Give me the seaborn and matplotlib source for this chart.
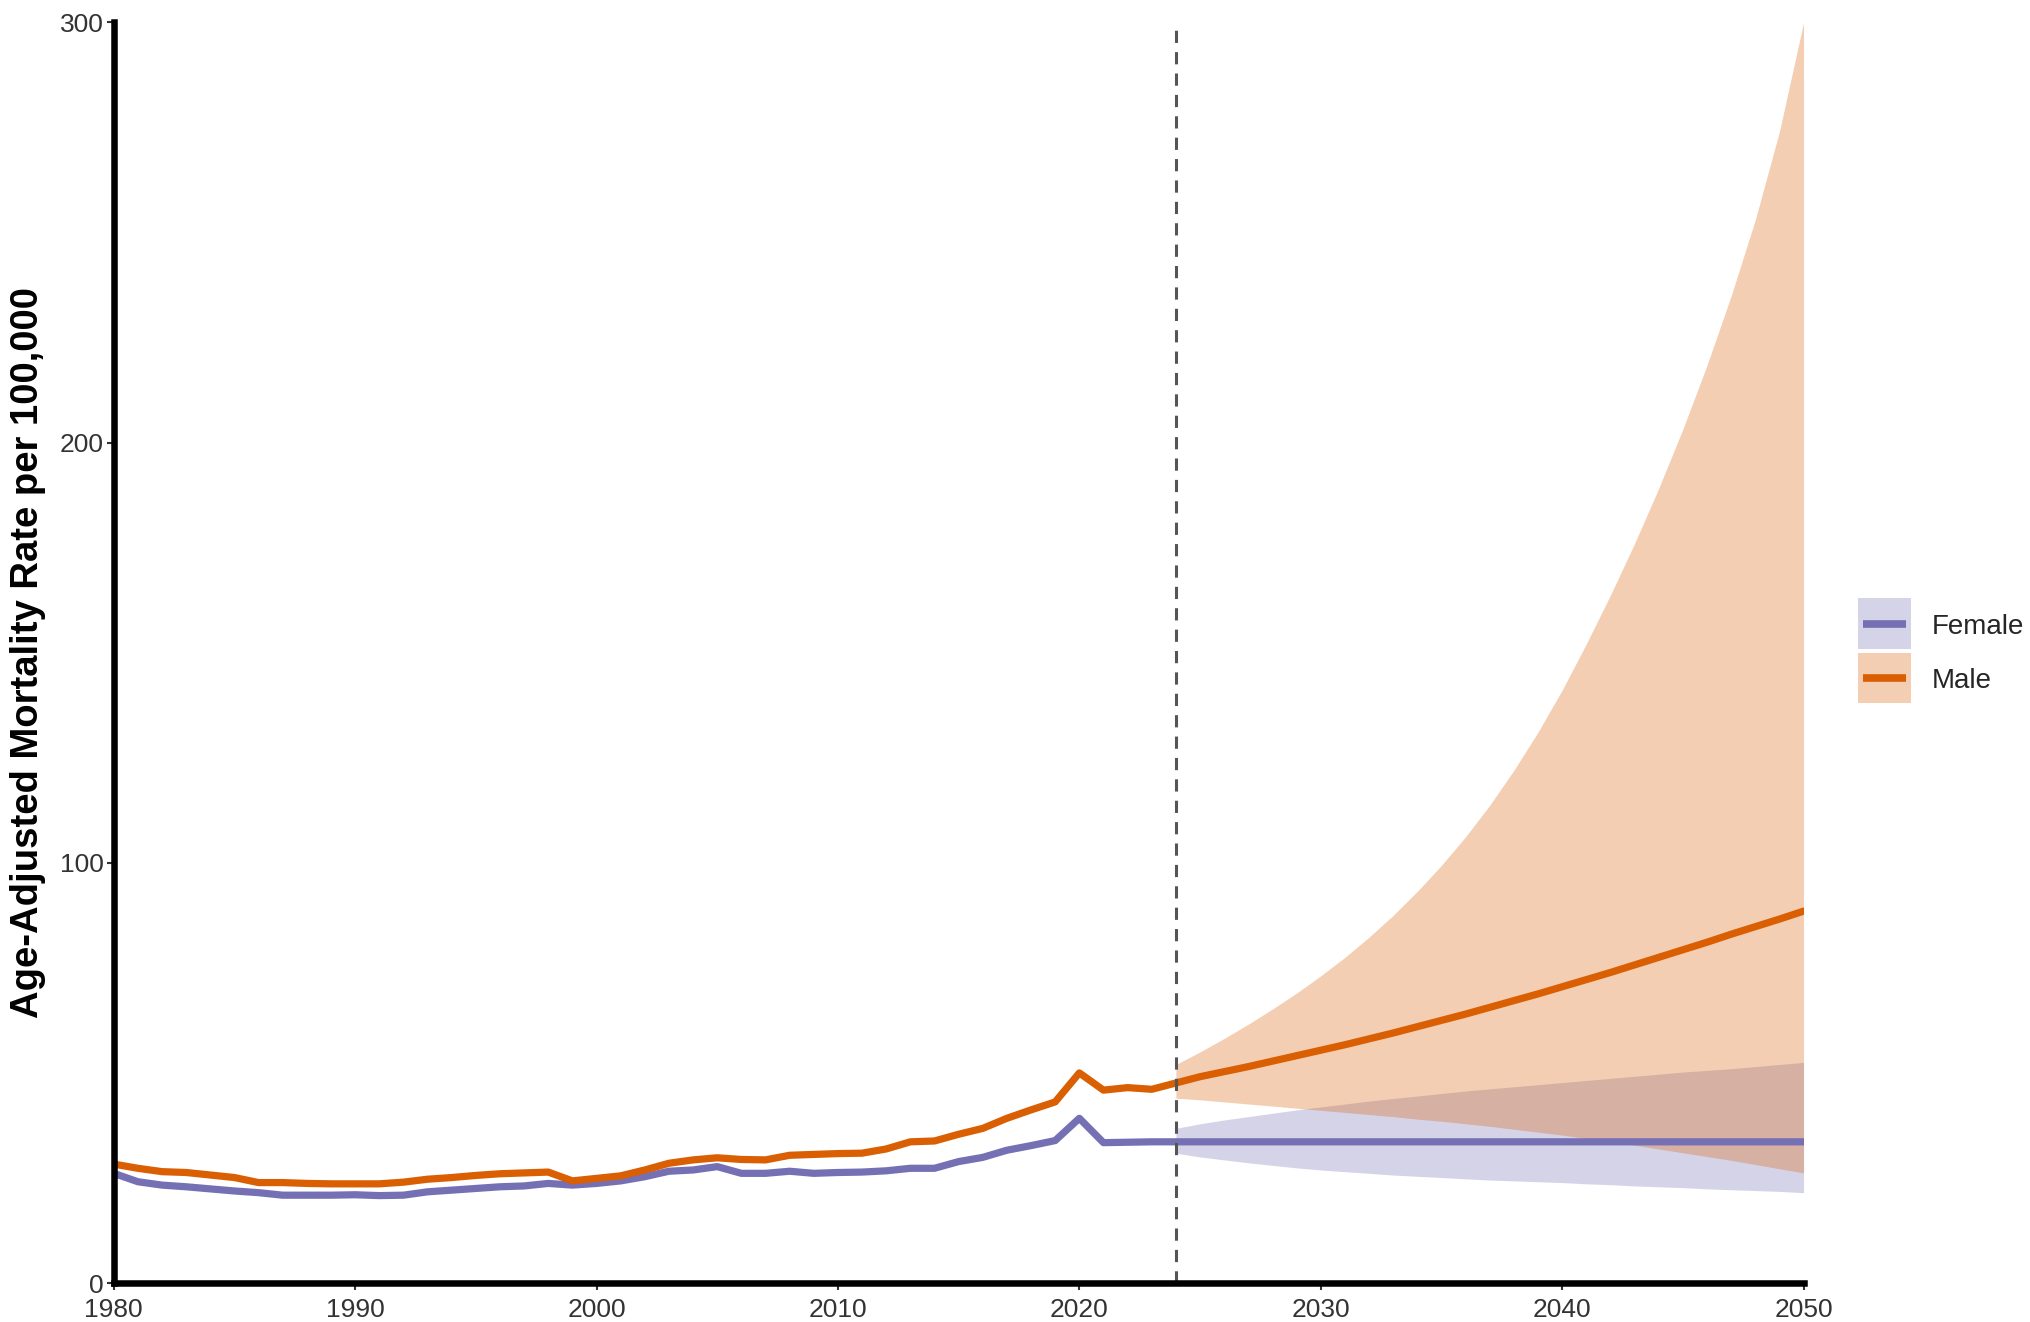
import numpy as np
import pandas as pd
import matplotlib
matplotlib.use('Agg')
import matplotlib.pyplot as plt
from matplotlib.patches import Patch, Rectangle
from matplotlib.lines import Line2D
from matplotlib.legend_handler import HandlerPatch, HandlerLine2D
import seaborn as sns

sns.set_theme(style='ticks')
plt.rcParams['font.family'] = ['Liberation Sans', 'DejaVu Sans']

# observed rates 1980-2024
hist_years = list(range(1980, 2025))
male_hist = [28.3, 27.3, 26.5, 26.3, 25.7, 25.1, 23.9, 23.9, 23.7, 23.6,
             23.6, 23.6, 24.0, 24.7, 25.1, 25.6, 26.0, 26.2, 26.4, 24.3,
             24.9, 25.5, 26.9, 28.5, 29.3, 29.8, 29.4, 29.3, 30.4, 30.6,
             30.8, 30.9, 31.9, 33.6, 33.8, 35.4, 36.8, 39.2, 41.2, 43.1,
             50.0, 45.9, 46.5, 46.1, 47.6]
female_hist = [26.1, 24.1, 23.3, 22.9, 22.4, 21.9, 21.5, 20.9, 20.9, 20.9,
               21.0, 20.8, 20.9, 21.7, 22.1, 22.5, 22.9, 23.1, 23.7, 23.3,
               23.7, 24.3, 25.3, 26.6, 26.9, 27.7, 26.1, 26.1, 26.6, 26.1,
               26.3, 26.4, 26.7, 27.3, 27.3, 28.9, 29.9, 31.6, 32.7, 33.9,
               39.2, 33.4, 33.5, 33.6, 33.6]

# forecast 2024-2050
fc_years = list(range(2024, 2051))
male_fc = [47.6, 49.1, 50.3, 51.5, 52.8, 54.1, 55.4, 56.7, 58.1, 59.5,
           61.0, 62.5, 64.0, 65.6, 67.2, 68.8, 70.5, 72.2, 73.9, 75.7,
           77.5, 79.3, 81.1, 83.0, 84.8, 86.6, 88.5]
male_lo = [44.0, 43.6, 43.1, 42.6, 42.1, 41.6, 41.1, 40.6, 40.1, 39.6,
           39.0, 38.5, 37.9, 37.3, 36.6, 35.9, 35.2, 34.4, 33.6, 32.8,
           31.9, 31.0, 30.1, 29.2, 28.2, 27.2, 26.2]
male_hi = [52.0, 55.0, 58.2, 61.6, 65.2, 69.0, 73.1, 77.5, 82.3, 87.5,
           93.2, 99.4, 106.2, 113.7, 122.0, 131.1, 141.1, 152.1, 163.7, 176.0,
           189.1, 203.2, 218.4, 234.9, 253.0, 274.0, 300.0]
female_fc = [33.6] * 27
female_lo = [30.9, 30.0, 29.3, 28.6, 28.0, 27.4, 26.9, 26.5, 26.1, 25.7,
             25.4, 25.1, 24.8, 24.5, 24.3, 24.1, 23.9, 23.6, 23.4, 23.1,
             22.9, 22.7, 22.4, 22.2, 22.0, 21.8, 21.5]
female_hi = [36.8, 37.9, 38.8, 39.6, 40.4, 41.2, 41.9, 42.6, 43.3, 43.9,
             44.5, 45.1, 45.7, 46.2, 46.7, 47.2, 47.7, 48.2, 48.7, 49.2,
             49.7, 50.2, 50.6, 51.0, 51.5, 52.0, 52.5]

sexes = ['Female', 'Male']
colors = {'Female': '#7570B3', 'Male': '#D95F02'}

lines = pd.concat([
    pd.DataFrame({'year': hist_years + fc_years[1:],
                  'rate': female_hist + female_fc[1:], 'sex': 'Female'}),
    pd.DataFrame({'year': hist_years + fc_years[1:],
                  'rate': male_hist + male_fc[1:], 'sex': 'Male'}),
], ignore_index=True)

bands = {
    'Female': (female_lo, female_hi),
    'Male': (male_lo, male_hi),
}

fig = plt.figure(figsize=(20.31, 13.22), dpi=100)
ax = fig.add_axes([0.056, 0.0295, 0.832, 0.9535])

sns.lineplot(data=lines, x='year', y='rate', hue='sex', palette=colors,
             hue_order=sexes, linewidth=5.2, ax=ax, legend=False,
             errorbar=None)

# prediction intervals drawn above the lines
for s in sexes:
    lo, hi = bands[s]
    ax.fill_between(fc_years, lo, hi, color=colors[s], alpha=0.3,
                    linewidth=0)

ax.axvline(2024, color='#555555', linestyle=(0, (4, 3)), linewidth=2.2)

ax.set_xlim(1980, 2050)
ax.set_ylim(0, 300)
ax.set_xticks(range(1980, 2051, 10))
ax.set_yticks([0, 100, 200, 300])
ax.set_xlabel('')
ax.set_ylabel('Age-Adjusted Mortality Rate per 100,000', fontsize=27.5,
              fontweight='bold', labelpad=10, color='black')

sns.despine(ax=ax)
for side in ['left', 'bottom']:
    ax.spines[side].set_linewidth(4.7)
    ax.spines[side].set_color('black')
ax.tick_params(axis='both', length=5, width=1.5, color='#333333',
               labelsize=19, labelcolor='#333333')
ax.tick_params(axis='y', pad=2)
ax.tick_params(axis='x', pad=6)


# key box a bit wider than the line, like ggplot keys
def key_box(legend, orig_handle, xdescent, ydescent, width, height, fontsize):
    return Rectangle((-xdescent - 3.5, -ydescent + 1.5), width + 7, height)


class KeyLine(HandlerLine2D):
    # put the line in the middle of the key box
    def create_artists(self, legend, orig_handle, xdescent, ydescent,
                       width, height, fontsize, trans):
        return super().create_artists(legend, orig_handle, xdescent,
                                      2 * ydescent - 3, width, height,
                                      fontsize, trans)


handles = [(Patch(facecolor=colors[s], alpha=0.3, edgecolor='none'),
            Line2D([], [], color=colors[s], linewidth=5.5,
                   solid_capstyle='butt')) for s in sexes]
ax.legend(handles, sexes, loc='center left', bbox_to_anchor=(1.035, 0.5),
          frameon=False, fontsize=20, handlelength=1.55, handleheight=2.4,
          labelspacing=0.15, handletextpad=0.95, borderpad=0,
          borderaxespad=0,
          handler_map={Patch: HandlerPatch(patch_func=key_box),
                       Line2D: KeyLine()})

fig.savefig('out.png', dpi=100)
